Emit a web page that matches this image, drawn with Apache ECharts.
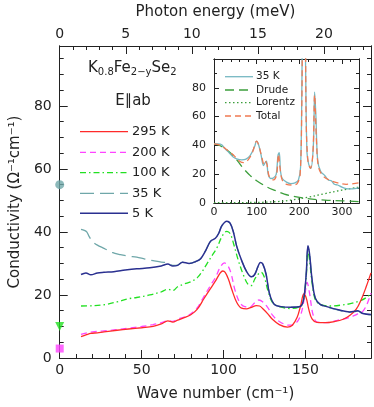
<!DOCTYPE html>
<html>
<head>
<meta charset="utf-8">
<script src="https://cdn.jsdelivr.net/npm/echarts@6/dist/echarts.min.js"></script>
<style>
  html, body { margin: 0; padding: 0; background: #fff; }
  #chart { width: 374px; height: 407px; }
</style>
</head>
<body>
<div id="chart"></div>
<script>
// --- data -----------------------------------------------------------------
// main panel: conductivity vs wave number, [cm^-1, Ohm^-1 cm^-1]
const k295 = [[13,6.8],[16,7.3],[19,7.8],[23,8],[27,8.3],[35,8.8],[42,9.2],[50,9.6],[57,10],[62,10.8],[66,11.8],[69,11.4],[72,12],[76,12.8],[80,13.7],[84,15.5],[88,18.8],[92,22],[95,24.4],[98,27],[99.5,27.6],[101,27.2],[103,25],[105,21.8],[108,17.7],[111,15.8],[114,15.6],[117,16.1],[120,16.6],[122,16.5],[124,15.6],[127,14],[130,12.2],[134,10.6],[139,9.8],[142,10.4],[145,13],[147,16.5],[149,20.3],[150.5,19],[152,15.5],[154,12.4],[157,11.3],[162,11.2],[168,11.6],[173,12.3],[177,13.5],[181,15.5],[184,18.5],[187,22.5],[190,27]];
const k200 = [[13,7.5],[16,7.9],[20,8.3],[27,8.6],[35,9],[42,9.5],[50,10],[57,10.6],[62,11.2],[66,11.8],[69,11.6],[72,12.3],[76,13],[80,14],[84,16],[88,19.5],[92,23],[95,25.5],[98,28.8],[100.5,30.2],[102.5,29.4],[104.5,27],[107,21.5],[110,17.5],[113,16.3],[116,16.2],[119,17.5],[121.5,18.4],[124,17.8],[127,16],[130,13.5],[134,11.6],[140,10.4],[144,11],[147,13.5],[149.5,19.5],[151,24],[152.5,20.5],[154.5,14],[157,11.4],[162,11.2],[170,12],[176,12.7],[180,13.5],[183,14.3],[185,14.8],[187.5,17],[190,20.6]];
const k100 = [[13,16.5],[20,16.6],[27,16.9],[35,17.8],[42,18.8],[47,19.2],[55,20],[62,21],[66,21.8],[69,21.4],[72,22.6],[76,23.5],[80,24.2],[84,25.5],[87,27.5],[90,30],[93,32.5],[96,35],[99,38.5],[102,40.2],[104,39.5],[106,36.5],[109,31],[112,26.5],[115,23.3],[117,23],[119,25],[121,26.5],[123,27.2],[125,25.5],[127,21.5],[130,17.5],[134,16.3],[141,15.7],[147,16.5],[149,19],[150.5,26],[151.5,34],[152.5,31],[154,24],[156,18.5],[159,17],[165,16.5],[172,16.8],[178,17.3],[184,18.3],[188,19.5],[190,20.5]];
const k35 = [[13,40.8],[15,40.5],[16.5,40],[18,38.5],[20,37],[23,35.8],[27,34.8],[32,33.5],[37,32.8],[42,32.3],[47,32],[52,31.4],[57,30.9],[62,30.4],[66,30.2],[69,29.4],[72,29.5],[75,30.4],[79,30],[83,30.6],[86,31.5],[89,34],[92,37],[95,38],[97,39.5],[99,42],[102,43.3],[104,42.7],[106,40],[108,35.5],[111,31],[114,27.5],[117,25.8],[119,26.5],[121,29],[122.5,30.2],[124,29.7],[126,26.5],[128,20.5],[131,17],[135,16.3],[141,16.1],[147,16.4],[149,19],[150.5,27],[151.5,35.3],[152.5,33],[154,25],[156,19],[159,17],[163,16.2],[170,15.2],[177,14.5],[180,14.7],[182,14.9],[185,14],[190,13.7]];
const k5 = [[13,26.5],[16,27],[19,26.4],[23,27],[27,27.2],[33,27.4],[40,27.9],[47,28.3],[55,28.6],[62,29.2],[66,29.8],[69,29.2],[72,29.4],[75,30.4],[79,30],[83,30.6],[86,31.5],[89,34],[92,37],[95,38],[97,39.5],[99,42],[102,43.4],[104,42.8],[106,40],[108,35.5],[111,31],[114,27.5],[117,25.8],[119,26.5],[121,29],[122.5,30.3],[124,29.8],[126,26.5],[128,20.5],[131,17],[135,16.3],[141,16.1],[147,16.4],[149,19],[150.5,27],[151.5,35.6],[152.5,33],[154,25],[156,19],[159,17],[163,16.3],[170,15.3],[177,14.6],[180,14.8],[182,15],[185,14.1],[190,13.8]];
// dc values plotted at zero frequency
const dc35 = [[0, 55]];
const dc100 = [[0, 10]];
const dc200 = [[0, 3]];

// inset: 35 K spectrum and its fit, [cm^-1, Ohm^-1 cm^-1]
const ins35 = [[0,41],[10,41],[18,40.5],[25,38],[35,35],[45,32],[55,30.5],[65,30],[75,30.5],[85,33],[95,39],[100,43],[104,41],[110,34],[116,26],[120,28],[123,29],[127,20],[133,17],[140,17.5],[146,20],[150,33],[153,35],[156,22],[160,17],[170,14.5],[180,13.5],[190,14],[198,16],[203,25],[206,80],[208,140],[212,160],[215,90],[218,35],[222,27],[227,24],[233,40],[236,77],[239,60],[243,30],[250,22],[260,19],[268,16],[275,15.5],[282,13],[290,12.5],[300,11],[310,10],[320,9.8],[330,10],[340,10.5]];
const insDrude = [[0,41],[20,39],[45,33],[66,25],[85,19],[100,15.5],[125,11],[145,8.5],[165,6.2],[190,4.5],[220,3],[260,2],[300,1.5],[340,1]];
const insLorentz = [[0,0.2],[100,0.4],[150,1],[180,2],[220,4],[260,6.5],[300,9],[340,11]];
const insTotal = [[0,41],[15,40],[30,37],[45,33.5],[60,29],[70,28],[80,30],[90,35],[100,43],[105,40],[112,32],[117,27],[120,29],[124,27],[130,18],[140,16],[147,20],[151,34],[155,24],[160,16],[170,13],[185,12.5],[195,13.5],[202,20],[206,70],[209,150],[213,150],[216,60],[220,30],[226,24],[232,35],[236,75],[240,45],[245,25],[255,19],[270,16],[290,14],[310,13],[340,14]];

// axis tick labels
const waveTicks = [0, 50, 100, 150];
const meVTicks = [0, 5, 10, 15, 20];
const condTicks = [0, 20, 40, 60, 80];
const insXTicks = [0, 100, 200, 300];
const insYTicks = [0, 20, 40, 60, 80];

// --- style ------------------------------------------------------------------
const FONT = "DejaVu Sans";
const INK = "#222";
const C295 = "#ff2a2a", C200 = "#ff44ff", C100 = "#22e022", C35 = "#6fa7a9", C5 = "#2a3090";
const CI35 = "#76b8c2", CDRUDE = "#3c9e3c", CTOTAL = "#f07a52";
const CM_PER_MEV = 8.06554;

const showIf = (list) => (v) => (list.includes(Math.round(v * 1000) / 1000) ? String(v) : "");

function axis(o) {
  return Object.assign({
    type: "value",
    splitLine: { show: false },
    axisLine: { show: true, onZero: false, lineStyle: { color: INK, width: 1 } },
    axisTick: { show: true, inside: true, length: 4, lineStyle: { color: INK } },
    axisLabel: { show: false },
  }, o);
}
const lbl = (size, margin, list) => ({ show: true, fontFamily: FONT, fontSize: size, color: INK, margin, formatter: showIf(list) });
const tick = (len) => ({ show: true, inside: true, length: len, lineStyle: { color: INK } });

const xMax = 190, yMax = 99;

const xAxis = [
  axis({ gridIndex: 0, position: "bottom", min: 0, max: xMax, interval: 50, axisTick: tick(8), axisLabel: lbl(14, 5, waveTicks),
    name: "Wave number (cm⁻¹)", nameLocation: "middle", nameGap: 29, nameTextStyle: { fontFamily: FONT, fontSize: 15, color: INK } }),
  axis({ gridIndex: 0, position: "bottom", min: 0, max: xMax, interval: 10, axisTick: tick(4) }),
  axis({ gridIndex: 0, position: "top", min: 0, max: xMax / CM_PER_MEV, interval: 5, axisTick: tick(8), axisLabel: lbl(14, 5, meVTicks),
    name: "Photon energy (meV)", nameLocation: "middle", nameGap: 26, nameTextStyle: { fontFamily: FONT, fontSize: 15, color: INK } }),
  axis({ gridIndex: 0, position: "top", min: 0, max: xMax / CM_PER_MEV, interval: 1, axisTick: tick(4) }),
  axis({ gridIndex: 1, position: "bottom", min: 0, max: 340, interval: 100, axisTick: tick(5), axisLabel: lbl(11, 4, insXTicks) }),
  axis({ gridIndex: 1, position: "bottom", min: 0, max: 340, interval: 20, axisTick: tick(3) }),
  axis({ gridIndex: 1, position: "top", min: 0, max: 340, interval: 100, axisTick: tick(5) }),
  axis({ gridIndex: 1, position: "top", min: 0, max: 340, interval: 20, axisTick: tick(3) }),
];
const yAxis = [
  axis({ gridIndex: 0, position: "left", min: 0, max: yMax, interval: 20, axisTick: tick(8), axisLabel: lbl(14, 8, condTicks),
    name: "Conductivity (Ω⁻¹cm⁻¹)", nameLocation: "middle", nameGap: 36, nameTextStyle: { fontFamily: FONT, fontSize: 15, color: INK } }),
  axis({ gridIndex: 0, position: "left", min: 0, max: yMax, interval: 5, axisTick: tick(4) }),
  axis({ gridIndex: 0, position: "right", min: 0, max: yMax, interval: 20, axisTick: tick(8) }),
  axis({ gridIndex: 0, position: "right", min: 0, max: yMax, interval: 5, axisTick: tick(4) }),
  axis({ gridIndex: 1, position: "left", min: 0, max: 100, interval: 20, axisTick: tick(5), axisLabel: lbl(11, 8, insYTicks) }),
  axis({ gridIndex: 1, position: "left", min: 0, max: 100, interval: 10, axisTick: tick(3) }),
  axis({ gridIndex: 1, position: "right", min: 0, max: 100, interval: 20, axisTick: tick(5) }),
  axis({ gridIndex: 1, position: "right", min: 0, max: 100, interval: 10, axisTick: tick(3) }),
];

function line(data, color, type, width, xi, yi, z) {
  return { type: "line", data, xAxisIndex: xi, yAxisIndex: yi, showSymbol: false, smooth: 0.35, z: z || 2,
    lineStyle: { color, type, width }, silent: true, animation: false };
}
function dot(data, color, symbol, size, rotate) {
  return { type: "scatter", data, xAxisIndex: 0, yAxisIndex: 0, symbol, symbolSize: size, symbolRotate: rotate || 0,
    itemStyle: { color }, clip: false, z: 5, silent: true, animation: false };
}

const series = [
  line(k35, C35, [14, 6], 1.3, 0, 0, 2),
  line(k200, C200, [6, 4], 1.3, 0, 0, 3),
  line(k295, C295, "solid", 1.3, 0, 0, 4),
  line(k100, C100, [6, 3, 1.5, 3], 1.3, 0, 0, 3),
  line(k5, C5, "solid", 1.5, 0, 0, 4),
  dot(dc35, C35, "circle", 9),
  dot(dc100, C100, "triangle", 9, 180),
  dot(dc200, C200, "rect", 8),
  line(insLorentz, CDRUDE, [1.5, 2.5], 1.3, 4, 4, 3),
  line(insDrude, CDRUDE, [9, 5], 1.3, 4, 4, 3),
  line(ins35, CI35, "solid", 1.3, 4, 4, 3),
  line(insTotal, CTOTAL, [6, 4], 1.3, 4, 4, 4),
];

// --- legends and labels (graphic) -----------------------------------------
function legendRow(x0, x1, y, color, dash, width, text, size, tx) {
  return [
    { type: "line", shape: { x1: x0, y1: y, x2: x1, y2: y }, style: { stroke: color, lineWidth: width, lineDash: dash }, z: 10 },
    { type: "text", x: tx, y, style: { text, fill: INK, font: `${size}px "${FONT}"`, verticalAlign: "middle" }, z: 10 },
  ];
}
const graphic = [
  { type: "text", x: 88, y: 68, z: 10, style: {
      text: "{n|K}{s|0.8}{n|Fe}{s|2−y}{n|Se}{s|2}", verticalAlign: "middle", fill: INK,
      rich: { n: { fontFamily: FONT, fontSize: 15, color: INK, lineHeight: 20 },
              s: { fontFamily: FONT, fontSize: 10, color: INK, lineHeight: 12, padding: [9, 0, 0, 0] } } } },
  { type: "text", x: 133, y: 101.5, z: 10, style: { text: "E∥ab", fill: INK, font: `15px "${FONT}"`, align: "center", verticalAlign: "middle" } },
  ...legendRow(80, 128, 131.7, C295, null, 1.3, "295 K", 13, 132),
  ...legendRow(80, 128, 152.3, C200, [6, 4], 1.3, "200 K", 13, 132),
  ...legendRow(80, 128, 172.7, C100, [6, 3, 1.5, 3], 1.3, "100 K", 13, 132),
  ...legendRow(80, 128, 193.3, C35, [14, 6], 1.3, "35 K", 13, 132),
  ...legendRow(80, 128, 213.3, C5, null, 1.5, "5 K", 13, 132),
  ...legendRow(225, 253, 76.7, CI35, null, 1.3, "35 K", 10.5, 256),
  ...legendRow(225, 253, 90, CDRUDE, [9, 5], 1.3, "Drude", 10.5, 256),
  ...legendRow(225, 253, 102.7, CDRUDE, [1.5, 2.5], 1.3, "Lorentz", 10.5, 256),
  ...legendRow(225, 253, 116, CTOTAL, [6, 4], 1.3, "Total", 10.5, 256),
];

const chart = echarts.init(document.getElementById("chart"), null, { renderer: "canvas" });
chart.setOption({
  backgroundColor: "#fff",
  animation: false,
  grid: [
    { left: 55, top: 43, right: 1.5, bottom: 47 },
    { left: 214, top: 59, width: 145, height: 144 },
  ],
  xAxis,
  yAxis,
  series,
  graphic,
});
</script>
</body>
</html>
